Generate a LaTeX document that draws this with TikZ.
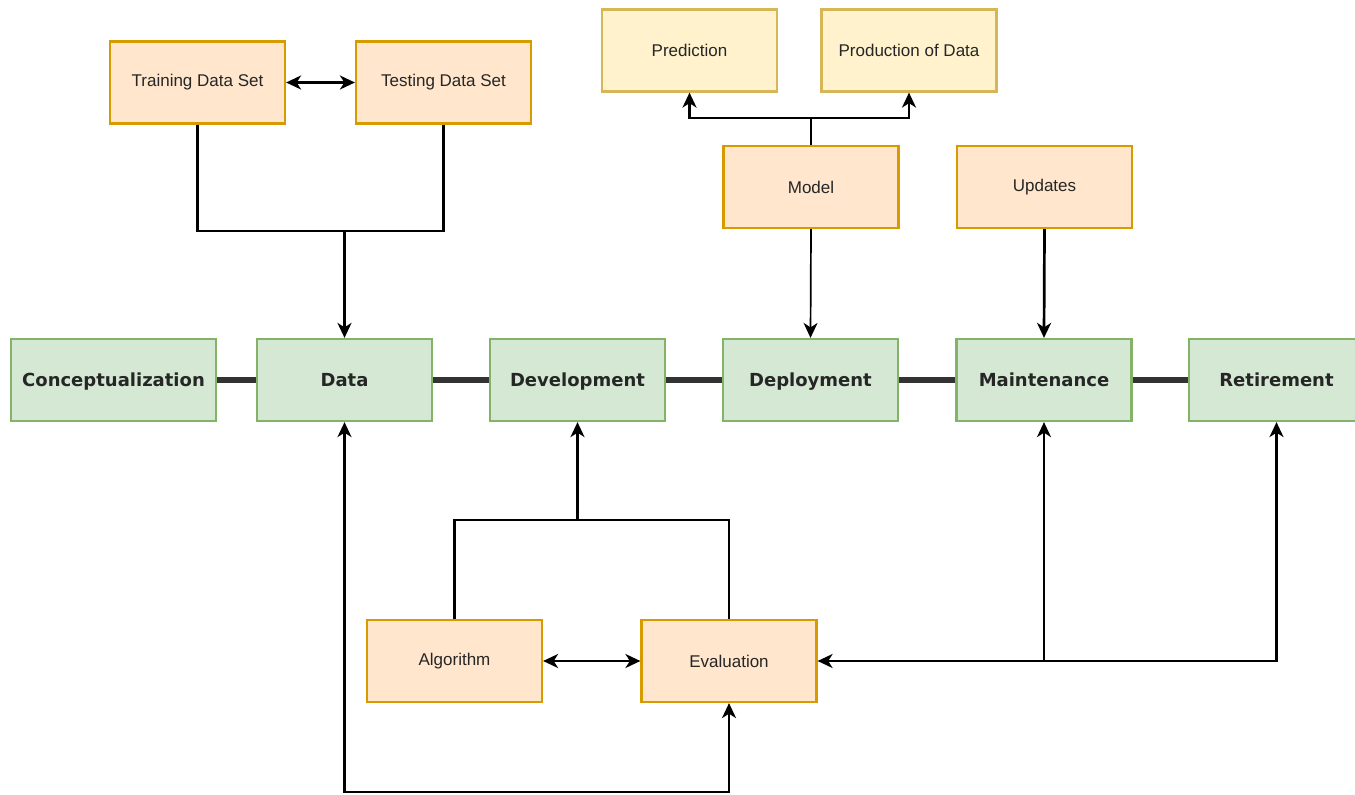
\documentclass[tikz,border=0pt]{standalone}
\usepackage{fontspec}
\usetikzlibrary{arrows.meta}
\newfontfamily\labelfont{Liberation Sans}
\newfontfamily\phasefont{DejaVu Sans}
\definecolor{orangefill}{HTML}{FFE6CC}
\definecolor{orangeline}{HTML}{D79B00}
\definecolor{yellowfill}{HTML}{FFF2CC}
\definecolor{yellowline}{HTML}{D6B656}
\definecolor{greenfill}{HTML}{D5E8D4}
\definecolor{greenline}{HTML}{82B366}
\definecolor{textdark}{HTML}{262626}
\definecolor{barline}{HTML}{333333}
\begin{document}
\begin{tikzpicture}[x=1pt,y=-1pt,
  task/.style={draw=orangeline, fill=orangefill, line width=2.2pt,
    minimum width=175pt, minimum height=82pt, inner sep=0pt,
    font=\labelfont\fontsize{17}{20}\selectfont, text=textdark},
  output/.style={task, draw=yellowline, fill=yellowfill},
  phase/.style={draw=greenline, fill=greenfill, line width=2.2pt,
    minimum width=175pt, minimum height=82pt, inner sep=0pt,
    text height=13pt, text depth=0pt,
    font=\phasefont\bfseries\fontsize{18}{21}\selectfont, text=textdark},
  link/.style={line width=2.7pt, draw=black},
  thinlink/.style={line width=1.7pt, draw=black},
  tip/.style={-{Stealth[length=15pt,width=14pt,inset=4.5pt]}},
  twotip/.style={{Stealth[length=15pt,width=14pt,inset=4.5pt]}-{Stealth[length=15pt,width=14pt,inset=4.5pt]}},
  bar/.style={line width=6pt, draw=barline}]
\useasboundingbox[fill=white] (0,0) rectangle (1355,795);

% lifecycle phases
\node[phase, minimum width=205pt] (concept) at (113.5,380) {Conceptualization};
\node[phase] (data) at (344.5,380) {Data};
\node[phase] (dev) at (577.5,380) {Development};
\node[phase] (deploy) at (810.5,380) {Deployment};
\node[phase] (maint) at (1044,380) {Maintenance};
\node[phase] (retire) at (1276.5,380) {Retirement};

% supporting activities
\node[task] (train) at (197.5,82.5) {Training Data Set};
\node[task] (test) at (443.5,82.5) {Testing Data Set};
\node[output] (predict) at (689.5,50.5) {Prediction};
\node[output] (produce) at (909,50.5) {Production of Data};
\node[task] (model) at (811,187) {Model};
\node[task] (updates) at (1044.5,187) {Updates};
\node[task] (algo) at (454.5,661) {Algorithm};
\node[task] (eval) at (729,661) {Evaluation};

% junction points
\coordinate (jdata) at (344.5,231);
\coordinate (jmodel) at (811,118);
\coordinate (jdev) at (577.5,520);
\coordinate (jmaint) at (1044,661);
\coordinate (jloop) at (344.5,792);

% backbone of the lifecycle
\draw[bar] (concept.east) -- (data.west);
\draw[bar] (data.east) -- (dev.west);
\draw[bar] (dev.east) -- (deploy.west);
\draw[bar] (deploy.east) -- (maint.west);
\draw[bar] (maint.east) -- (retire.west);

% data sets feed the data phase
\draw[link, twotip] (train.east) -- (test.west);
\draw[link] (train.south) |- (jdata) -| (test.south);
\draw[link, tip] (jdata) -- (data.north);

% model outputs and deployment
\draw[thinlink] (model.north) -- (jmodel);
\draw[link, tip] (jmodel) -| (predict.south);
\draw[link, tip] (jmodel) -| (produce.south);
\draw[thinlink, tip] (model.south) -- (deploy.north);

% updates feed maintenance
\draw[link, tip] (updates.south) -- (maint.north);

% algorithm and evaluation feed development
\draw[link] (algo.north) |- (jdev) -| (eval.north);
\draw[link, tip] (jdev) -- (dev.south);
\draw[link, twotip] (algo.east) -- (eval.west);

% evaluation loops with maintenance, retirement and data
\draw[link, twotip] (retire.south) |- (eval.east);
\draw[link, tip] (jmaint) -- (maint.south);
\draw[link, twotip] (data.south) -- (jloop) -| (eval.south);
\end{tikzpicture}
\end{document}
